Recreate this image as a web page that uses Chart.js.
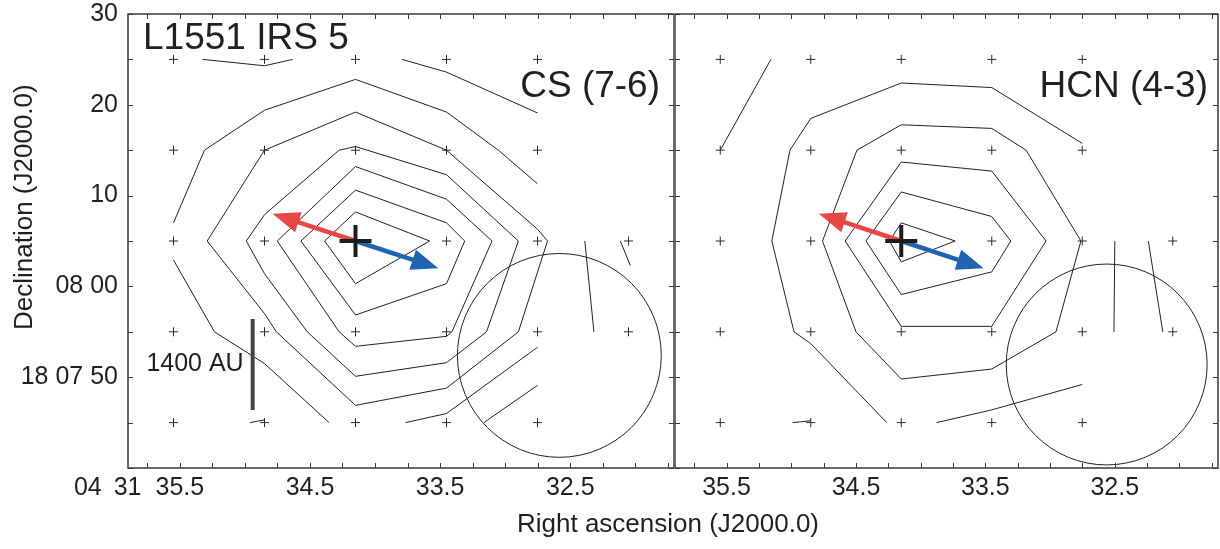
<!DOCTYPE html>
<html>
<head>
<meta charset="utf-8">
<title>L1551 IRS 5 - CS (7-6) and HCN (4-3)</title>
<script src="https://cdn.jsdelivr.net/npm/chart.js@4.4.1/dist/chart.umd.min.js"></script>
<style>
  html, body { margin: 0; padding: 0; background: #fff; }
  #wrap { position: relative; width: 1220px; height: 549px; overflow: hidden; }
  #wrap canvas { position: absolute; top: 0; }
  #csMap { left: 0; }
  #hcnMap { left: 675px; }
  #raTitle { position: absolute; left: 418px; width: 500px; top: 508px; text-align: center;
             font: 26px/30px "Liberation Sans", Arial, sans-serif; color: #231f20; }
</style>
</head>
<body>
<div id="wrap">
  <canvas id="csMap" width="675" height="549"></canvas>
  <canvas id="hcnMap" width="545" height="549"></canvas>
  <div id="raTitle">Right ascension (J2000.0)</div>
</div>
<script>
const FONT = '"Liberation Sans", Arial, sans-serif';
const INK = '#231f20';

// axis ticks: RA in seconds of 04h31m, Dec in arcsec past 18d07m
const raTickSec = [35.75, 35.5, 35.25, 35, 34.75, 34.5, 34.25, 34, 33.75, 33.5, 33.25, 33, 32.75, 32.5, 32.25, 32, 31.75];
const raLabelSec = [35.5, 34.5, 33.5, 32.5];
const raLabels = ['35.5', '34.5', '33.5', '32.5'];
const decTickSec = [40, 45, 50, 55, 60, 65, 70, 75, 80, 85, 90];
const decLabelSec = [50, 60, 70, 80, 90];
const decLabels = ['18 07 50', '08 00', '10', '20', '30'];

// map centre 04 31 34.15 / 18 08 05, everything else is arcsec offset from it
const RA0 = 34.15;
const DEC0 = 65;
const ARCSEC_PER_S = 14.3;
const raToX = s => (s - RA0) * ARCSEC_PER_S;
const decToY = s => s - DEC0;

// observed positions (crosses)
const ptX = [20, 10, 0, -10, -20, 20, 10, 0, -10, -20, 20, 10, 0, -10, -20, -30, 20, 10, 0, -10, -20, -30, 20, 10, 0, -10, -20];
const ptY = [20, 20, 20, 20, 20, 10, 10, 10, 10, 10, 0, 0, 0, 0, 0, 0, -10, -10, -10, -10, -10, -10, -20, -20, -20, -20, -20];

// outflow lobe directions (arrow tips), drawn out from the source
const redLobe = [9.1, 3.0];
const blueLobe = [-9.1, -3.0];

// beam circles: centre x, centre y, radius
const csBeam = [-22.4, -12.6, 11.2];
const hcnBeam = [-22.7, -13.6, 11.1];

// 1400 AU scale bar
const barX = [11.3, 11.3];
const barY = [-8.6, -18.6];

// CS (7-6) contours
const csTopW = [[16.8, 20], [10, 19.3], [6.9, 20]];
const csTopE = [[-5.1, 20], [-10, 18.6], [-20, 14.1]];
const cs1n = [[20, 2.0], [16.6, 10], [10, 14.4], [0, 17.8], [-10, 14.2], [-15.7, 10], [-20, 6.3]];
const cs1s = [[20, -2.1], [15.5, -10], [10, -13.5], [2.9, -20]];
const cs1e = [[-20, -11.7], [-10, -19], [-5.5, -20]];
const cs0e = [[-20, -15.9], [-14.1, -20]];
const csStubS = [[11.6, -20], [10, -19.7]];
const csStubE1 = [[-25.2, 0], [-26.2, -10]];
const csStubE2 = [[-29.1, 0], [-30.2, -2.7]];
const cs2 = [[16.3, 0], [10, 10], [0, 14.2], [-10, 10], [-20, 1.3], [-21.1, 0], [-17.9, -10], [-10, -16.2], [0, -18.1], [8.7, -10], [10, -8], [16.3, 0]];
const cs3 = [[12, 0], [10, 2.9], [1.8, 10], [0, 10.4], [-10, 7.3], [-17.9, 0], [-14.4, -10], [-10, -13.4], [0, -14.9], [5.3, -10], [10, -3.6], [12, 0]];
const cs4 = [[8.6, 0], [0, 8.2], [-10, 4.6], [-15, 0], [-10.6, -10], [-10, -10.5], [0, -11.6], [1.8, -10], [8.6, 0]];
const cs5 = [[6, 0], [0, 5.6], [-10, 2.0], [-12, 0], [-10, -4.7], [0, -8.15], [6, 0]];
const cs6 = [[3.4, 0], [0, 3.2], [-8.15, 0], [0, -4.7], [3.4, 0]];
const csPaths = [csTopW, csTopE, cs1n, cs1s, cs1e, cs0e, csStubS, csStubE1, csStubE2, cs2, cs3, cs4, cs5, cs6];

// HCN (4-3) contours
const hcnNW = [[14.4, 20], [20, 10]];
const hcnStubS = [[12, -20], [10, -19.8]];
const hcnStubE1 = [[-23.6, 0], [-23.5, -10]];
const hcnStubE2 = [[-27.3, 0], [-28.9, -10]];
const hcn1 = [[1.6, -20], [10, -11.3], [11.85, -10], [14.3, 0], [12.3, 10], [10, 13.5], [0, 17.4], [-10, 16.9], [-20, 10.75]];
const hcn1e = [[-3.9, -20], [-10, -18.6], [-20, -15.8]];
const hcn2 = [[0, -15.2], [5, -10], [8.7, 0], [4.9, 10], [0, 12.8], [-10, 12.4], [-13.8, 10], [-19.85, 0], [-17.1, -10], [-10, -14.1], [0, -15.2]];
const hcn3 = [[6.2, 0], [0, 8.7], [-10, 7.7], [-16, 0], [-10, -9.4], [0, -9.4], [6.2, 0]];
const hcn4 = [[3.9, 0], [0, 5.4], [-10, 2.7], [-12.1, 0], [-10, -3.4], [0, -5.9], [3.9, 0]];
const hcn5 = [[1.3, 0], [0, 2.0], [-5.95, 0], [0, -2.3], [1.3, 0]];
const hcnPaths = [hcnNW, hcnStubS, hcnStubE1, hcnStubE2, hcn1, hcn1e, hcn2, hcn3, hcn4, hcn5];


function drawArrow(ctx, x0, y0, x1, y1, color) {
  const ang = Math.atan2(y1 - y0, x1 - x0);
  const head = 27, half = 10.5;
  const bx = x1 - head * Math.cos(ang);
  const by = y1 - head * Math.sin(ang);
  ctx.strokeStyle = color;
  ctx.fillStyle = color;
  ctx.lineWidth = 4.5;
  ctx.beginPath();
  ctx.moveTo(x0, y0);
  ctx.lineTo(bx + 2 * Math.cos(ang), by + 2 * Math.sin(ang));
  ctx.stroke();
  ctx.beginPath();
  ctx.moveTo(x1, y1);
  ctx.lineTo(bx + half * Math.sin(ang), by - half * Math.cos(ang));
  ctx.lineTo(bx - half * Math.sin(ang), by + half * Math.cos(ang));
  ctx.closePath();
  ctx.fill();
}

// beam, outflow arrows, frame with inward ticks and the panel texts
const mapDecor = {
  id: 'mapDecor',
  beforeDatasetsDraw(chart, args, opts) {
    const {ctx, scales: {x, y}} = chart;
    const b = opts.beam;
    const cx = x.getPixelForValue(b[0]);
    const cy = y.getPixelForValue(b[1]);
    const r = Math.abs(x.getPixelForValue(b[2]) - x.getPixelForValue(0));
    ctx.save();
    ctx.strokeStyle = INK;
    ctx.lineWidth = 1;
    ctx.beginPath();
    ctx.arc(cx, cy, r, 0, Math.PI * 2);
    ctx.stroke();
    ctx.restore();
  },
  beforeDatasetDraw(chart, args) {
    if (args.index !== 0) return;
    const {ctx, scales: {x, y}} = chart;
    const x0 = x.getPixelForValue(0), y0 = y.getPixelForValue(0);
    ctx.save();
    drawArrow(ctx, x0, y0, x.getPixelForValue(redLobe[0]), y.getPixelForValue(redLobe[1]), '#e64848');
    drawArrow(ctx, x0, y0, x.getPixelForValue(blueLobe[0]), y.getPixelForValue(blueLobe[1]), '#2063b0');
    ctx.restore();
  },
  afterDraw(chart, args, opts) {
    const {ctx, chartArea: a, scales: {x, y}} = chart;
    ctx.save();
    // inward tick marks on all four sides
    ctx.strokeStyle = '#3a3a3a';
    ctx.lineWidth = 1;
    ctx.beginPath();
    raTickSec.forEach(s => {
      const px = Math.round(x.getPixelForValue(raToX(s))) + 0.5;
      ctx.moveTo(px, a.bottom); ctx.lineTo(px, a.bottom - 5);
      ctx.moveTo(px, a.top); ctx.lineTo(px, a.top + 5);
    });
    decTickSec.forEach(s => {
      const py = Math.round(y.getPixelForValue(decToY(s))) + 0.5;
      ctx.moveTo(a.left, py); ctx.lineTo(a.left + 5, py);
      ctx.moveTo(a.right, py); ctx.lineTo(a.right - 5, py);
    });
    ctx.stroke();
    ctx.lineWidth = 1.5;
    ctx.strokeRect(a.left, a.top, a.right - a.left, a.bottom - a.top);

    ctx.fillStyle = INK;
    ctx.textBaseline = 'alphabetic';
    ctx.font = '37px ' + FONT;
    opts.texts.forEach(t => {
      ctx.textAlign = t.align;
      ctx.fillText(t.text, a.left + t.dx, a.top + t.dy);
    });

    if (opts.axisNotes) {
      // scale bar label
      ctx.font = '25px ' + FONT;
      ctx.textAlign = 'right';
      ctx.textBaseline = 'middle';
      ctx.fillText('1400 AU', x.getPixelForValue(barX[0]) - 9, y.getPixelForValue((barY[0] + barY[1]) / 2));
      // hours and minutes in front of the first RA label
      const p = x.getPixelForValue(raToX(raLabelSec[0]));
      const w = ctx.measureText(raLabels[0]).width;
      const ly = a.bottom + 5 + 15;
      const minEnd = p - w / 2 - 14;
      ctx.fillText('31', minEnd, ly);
      ctx.fillText('04', minEnd - ctx.measureText('31').width - 12, ly);
      // declination axis title
      ctx.font = '26px ' + FONT;
      ctx.translate(32, 330);
      ctx.rotate(-Math.PI / 2);
      ctx.textAlign = 'left';
      ctx.textBaseline = 'alphabetic';
      ctx.fillText('Declination (J2000.0)', 0, 0);
    }
    ctx.restore();
  }
};

function mapChart(id, paths, beam, left) {
  const datasets = [
    { data: [{x: 0, y: 0}], pointStyle: 'cross', pointRadius: 16, borderColor: '#1c1c1c', borderWidth: 4, order: 0 },
    { data: ptX.map((v, i) => ({x: v, y: ptY[i]})), pointStyle: 'cross', pointRadius: 4.5, borderColor: '#2a2a2a', borderWidth: 1, order: 2 }
  ];
  paths.forEach(p => datasets.push({
    data: p.map(q => ({x: q[0], y: q[1]})),
    showLine: true, pointRadius: 0, borderColor: INK, borderWidth: 1, order: 3
  }));
  if (left) {
    datasets.push({
      data: barX.map((v, i) => ({x: v, y: barY[i]})),
      showLine: true, pointRadius: 0, borderColor: '#45453f', borderWidth: 4, borderCapStyle: 'butt', order: 1
    });
  }

  return new Chart(document.getElementById(id), {
    type: 'scatter',
    data: { datasets },
    options: {
      responsive: false,
      animation: false,
      events: [],
      layout: { autoPadding: false, padding: { top: 14, right: left ? 1 : 2, left: 0, bottom: 0 } },
      plugins: {
        legend: { display: false },
        tooltip: { enabled: false },
        mapDecor: {
          beam: beam,
          axisNotes: left,
          texts: left
            ? [{ text: 'L1551 IRS 5', dx: 15, dy: 35, align: 'left' }, { text: 'CS (7-6)', dx: 532, dy: 83, align: 'right' }]
            : [{ text: 'HCN (4-3)', dx: 533, dy: 83, align: 'right' }]
        }
      },
      scales: {
        x: {
          type: 'linear', min: -35, max: 25, reverse: true,
          grid: { display: false, drawTicks: false },
          border: { display: false },
          afterBuildTicks: s => { s.ticks = raTickSec.map(v => ({ value: raToX(v) })); },
          afterFit: s => { s.height = 81; s.paddingLeft = 0; s.paddingRight = 0; },
          ticks: {
            autoSkip: false, maxRotation: 0, padding: 5, color: INK,
            font: { family: FONT, size: 25 },
            callback: (v, i) => {
              const k = raLabelSec.indexOf(raTickSec[i]);
              return k >= 0 ? raLabels[k] : '';
            }
          }
        },
        y: {
          type: 'linear', min: -25, max: 25, display: left,
          grid: { display: false, drawTicks: false },
          border: { display: false },
          afterBuildTicks: s => { s.ticks = decTickSec.map(v => ({ value: decToY(v) })); },
          afterFit: s => { s.width = left ? 128 : 0; s.paddingTop = 0; s.paddingBottom = 0; },
          ticks: {
            autoSkip: false, padding: 10, color: INK,
            font: { family: FONT, size: 25 },
            callback: (v, i) => {
              const k = decLabelSec.indexOf(decTickSec[i]);
              return k >= 0 ? decLabels[k] : '';
            }
          }
        }
      }
    },
    plugins: [mapDecor]
  });
}

mapChart('csMap', csPaths, csBeam, true);
mapChart('hcnMap', hcnPaths, hcnBeam, false);
</script>
</body>
</html>
